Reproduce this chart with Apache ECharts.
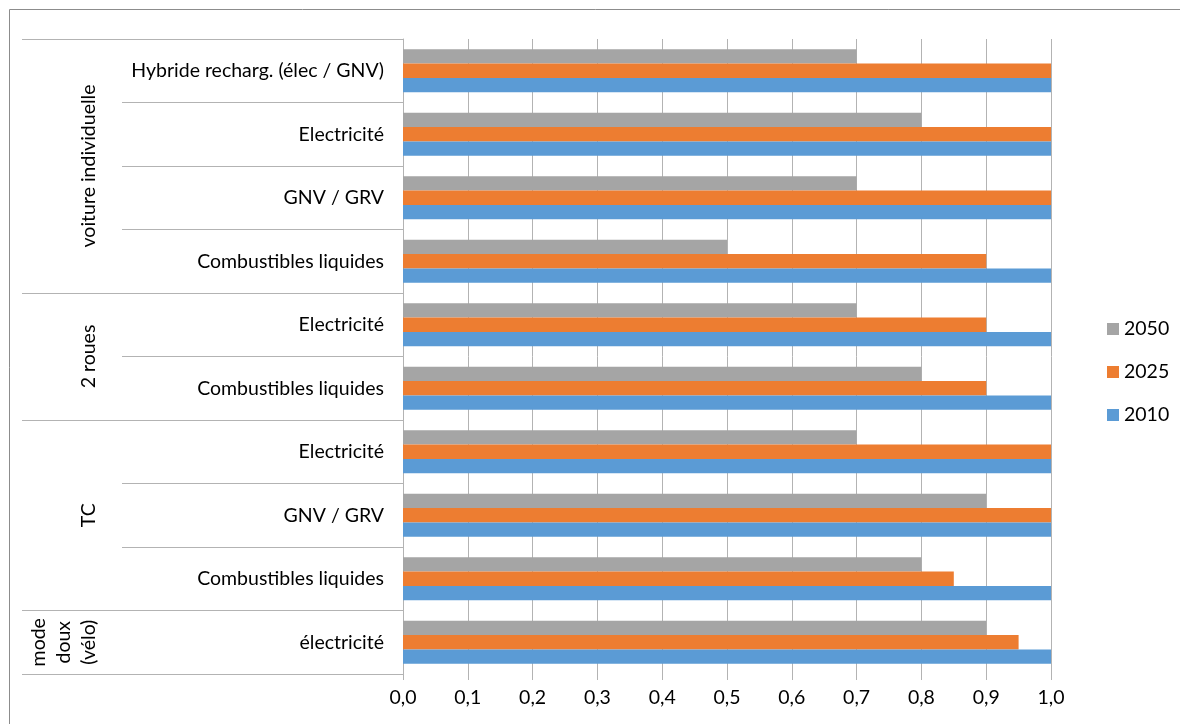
<!DOCTYPE html>
<html>
<head>
<meta charset="utf-8">
<script src="https://cdn.jsdelivr.net/npm/echarts@6/dist/echarts.min.js"></script>
<style>
html,body{margin:0;padding:0;background:#fff;}
#c{width:1180px;height:724px;}
</style>
</head>
<body>
<div id="c"></div>
<script>
// ---- data ----
const categories = ['Hybride recharg. (élec / GNV)', 'Electricité', 'GNV / GRV', 'Combustibles liquides',
  'Electricité', 'Combustibles liquides',
  'Electricité', 'GNV / GRV', 'Combustibles liquides',
  'électricité'];
const groupNames = ['voiture individuelle', '2 roues', 'TC', 'mode\ndoux\n(vélo)'];
const groupSizes = [4, 2, 3, 1];
const seriesNames = ['2050', '2025', '2010'];
const values2050 = [0.7, 0.8, 0.7, 0.5, 0.7, 0.8, 0.7, 0.9, 0.8, 0.9];
const values2025 = [1.0, 1.0, 1.0, 0.9, 0.9, 0.9, 1.0, 1.0, 0.85, 0.95];
const values2010 = [1.0, 1.0, 1.0, 1.0, 1.0, 1.0, 1.0, 1.0, 1.0, 1.0];
const xTicks = [0, 0.1, 0.2, 0.3, 0.4, 0.5, 0.6, 0.7, 0.8, 0.9, 1.0];

const colors = ['#a5a5a5', '#ed7d31', '#5b9bd5'];
const FONT = 'Lato';
const FS = 19.5;
const LINE = '#b3b3b3';

const chart = echarts.init(document.getElementById('c'), null, {renderer: 'canvas'});
const allValues = [values2050, values2025, values2010];

const option = {
  animation: false,
  backgroundColor: '#fff',
  color: colors,
  grid: {left: 403, right: 129, top: 39, bottom: 50, containLabel: false},
  legend: {
    orient: 'vertical',
    left: 1102, top: 314,
    itemWidth: 12, itemHeight: 12, itemGap: 23,
    icon: 'rect',
    textStyle: {fontFamily: FONT, fontSize: FS, color: '#000', lineHeight: 19, padding: [0,0,0,0]},
    data: seriesNames
  },
  xAxis: {
    type: 'value', min: 0, max: 1, interval: 0.1,
    axisLine: {show: false},
    axisTick: {show: true, length: 6, lineStyle: {color: LINE}},
    splitLine: {show: true, lineStyle: {color: LINE, width: 1}},
    axisLabel: {
      fontFamily: FONT, fontSize: FS, color: '#000', margin: 14,
      formatter: v => xTicks.includes(Math.round(v*10)/10) ? v.toFixed(1).replace('.', ',') : ''
    }
  },
  yAxis: {
    type: 'category', inverse: true,
    data: categories,
    axisLine: {show: true, lineStyle: {color: LINE}},
    axisTick: {show: true, length: 281, alignWithLabel: false, lineStyle: {color: LINE}},
    axisLabel: {fontFamily: FONT, fontSize: FS, color: '#000', margin: 19, align: 'right'},
    splitLine: {show: false}
  },
  series: seriesNames.map((n, i) => ({
    name: n, type: 'bar',
    data: allValues[i],
    barGap: '0%', barCategoryGap: '32%',
    itemStyle: {color: colors[i]}
  }))
};
chart.setOption(option);

// group lines and labels, positioned through the axis scale
function px(i) { return chart.convertToPixel({yAxisIndex: 0}, i); }
const band = px(1) - px(0);
function boundary(i) { return px(0) - band/2 + i*band; }
function crisp(p) {
  const d = Math.round(p * 2);
  return (d + 1) % 2 === 0 ? d / 2 : (d + 1) / 2;
}
const graphics = [];
// outer chart border
graphics.push({type: 'rect', shape: {x: 9.5, y: 9.5, width: 1200, height: 760},
  style: {fill: null, stroke: '#8c8c8c', lineWidth: 1}, silent: true, z: -1});
let start = 0;
const bounds = [0];
groupSizes.forEach(s => { start += s; bounds.push(start); });
bounds.forEach(b => {
  const y = crisp(boundary(b));
  graphics.push({type: 'line', shape: {x1: 22, y1: y, x2: 123, y2: y},
    style: {stroke: LINE, lineWidth: 1}, silent: true});
});
for (let g = 0; g < groupNames.length; g++) {
  const yc = (boundary(bounds[g]) + boundary(bounds[g+1])) / 2;
  graphics.push({type: 'text', x: 101, y: yc, rotation: Math.PI/2,
    style: {text: groupNames[g], fontFamily: FONT, fontSize: FS, fill: '#000',
      align: 'center', verticalAlign: 'bottom', lineHeight: 25}, silent: true});
}
chart.setOption({graphic: graphics});
</script>
</body>
</html>
